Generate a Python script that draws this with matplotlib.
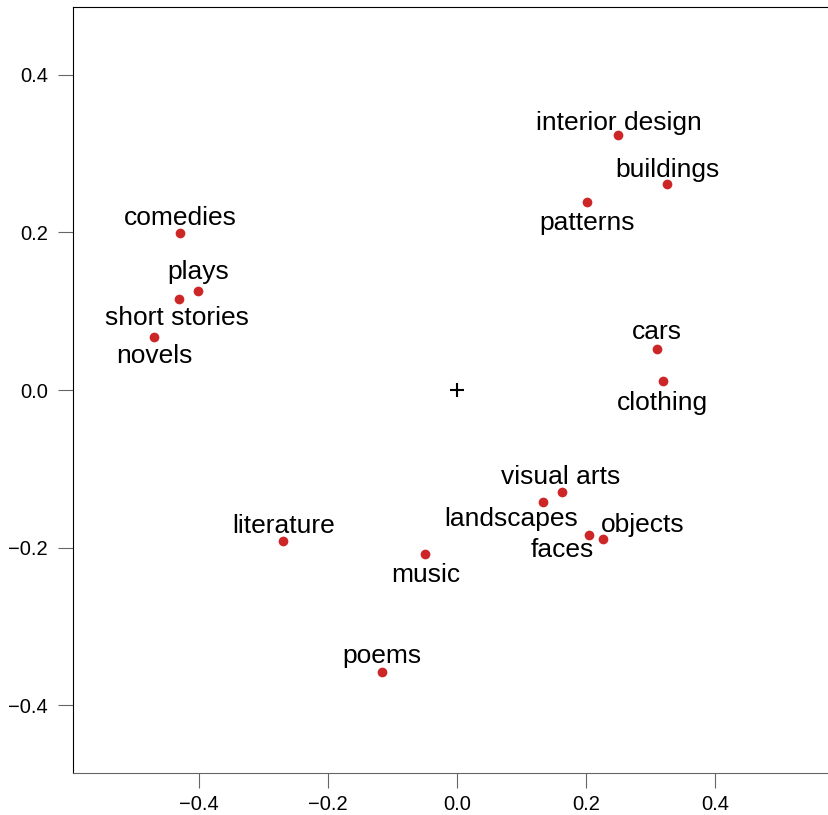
#! /usr/bin/env python3

import matplotlib
matplotlib.use("Agg")
import matplotlib.pyplot as plt

words = ["interior design", "buildings", "patterns", "comedies", "plays",
         "short stories", "novels", "cars", "clothing", "visual arts",
         "landscapes", "objects", "faces", "literature", "music", "poems"]
xs = [0.250, 0.326, 0.202, -0.429, -0.401, -0.431, -0.470, 0.310, 0.319,
      0.163, 0.134, 0.227, 0.205, -0.270, -0.049, -0.116]
ys = [0.324, 0.261, 0.238, 0.199, 0.125, 0.116, 0.067, 0.052, 0.011,
      -0.130, -0.142, -0.189, -0.184, -0.192, -0.208, -0.358]

# label offsets from each point, in pixels (baseline, centred)
offsets = [(1, 5), (0, 7), (0, -28), (0, 8), (0, 12), (-2, -26), (1, -26),
           (0, 10), (0, -29), (-1, 8), (-32, -24), (39, 7), (-27, -22),
           (1, 8), (1, -28), (0, 9)]

plt.rcParams["font.family"] = ["Liberation Sans", "DejaVu Sans"]

fig = plt.figure(figsize=(8.29, 8.15), dpi=100)
ax = fig.add_axes([73 / 829, 42 / 815, 1 - 73 / 829, 766 / 815])

ax.plot(xs, ys, "o", color="#CD2626", markersize=7, markeredgewidth=0)
ax.plot([0], [0], "+", color="black", markersize=10, markeredgewidth=1.5)

for w, x, y, (dx, dy) in zip(words, xs, ys, offsets):
    ax.annotate(w, (x, y), xytext=(dx, dy), textcoords="offset pixels",
                ha="center", va="baseline", fontsize=19)

ax.set_xlim(-0.595, 0.577)
ax.set_ylim(-0.486, 0.486)
ticks = [-0.4, -0.2, 0.0, 0.2, 0.4]
ax.set_xticks(ticks)
ax.set_yticks(ticks)
fmt = matplotlib.ticker.FuncFormatter(lambda v, p: ("%.1f" % v).replace("-", "\u2212"))
ax.xaxis.set_major_formatter(fmt)
ax.yaxis.set_major_formatter(fmt)

ax.spines["right"].set_visible(False)
ax.spines["left"].set_color("black")
ax.spines["top"].set_color("black")
ax.spines["bottom"].set_color("#666666")
for s in ax.spines.values():
    s.set_linewidth(0.8)
ax.tick_params(axis="both", direction="out", length=11, width=0.8,
               color="#666666", labelsize=14.5)
ax.tick_params(axis="x", pad=5)
ax.tick_params(axis="y", pad=7)

fig.savefig("out.png", dpi=100)
